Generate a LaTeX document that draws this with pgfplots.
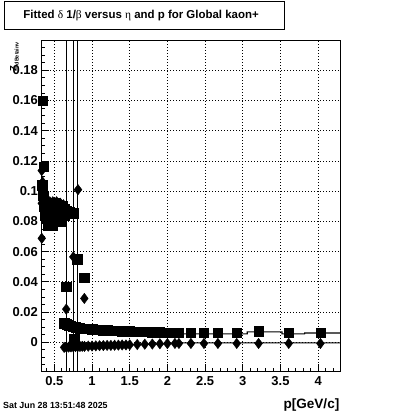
\documentclass[border=0pt]{standalone}
\usepackage{fontspec}
\setmainfont{Liberation Sans}
\newfontfamily\greek{Liberation Serif}
\usepackage{pgfplots}
\pgfplotsset{compat=1.18}
\begin{document}
\begin{tikzpicture}
\begin{axis}[
  scale only axis, width=298.7bp, height=331bp,
  xmin=0.327, xmax=4.29, ymin=-0.0197, ymax=0.1994,
  clip=false,
  axis line style={line width=1bp},
  xtick={0.5,1,1.5,2,2.5,3,3.5,4},
  xticklabels={0.5,1,1.5,2,2.5,3,3.5,4},
  minor xtick={0.4,0.6,0.7,0.8,0.9,1.1,1.2,1.3,1.4,1.6,1.7,1.8,1.9,2.1,2.2,2.3,2.4,2.6,2.7,2.8,2.9,3.1,3.2,3.3,3.4,3.6,3.7,3.8,3.9,4.1,4.2},
  ytick={0,0.02,0.04,0.06,0.08,0.1,0.12,0.14,0.16,0.18},
  yticklabels={0,0.02,0.04,0.06,0.08,0.1,0.12,0.14,0.16,0.18},
  minor ytick={-0.015,-0.01,-0.005,0.005,0.01,0.015,0.025,0.03,0.035,0.045,0.05,0.055,0.065,0.07,0.075,0.085,0.09,0.095,0.105,0.11,0.115,0.125,0.13,0.135,0.145,0.15,0.155,0.165,0.17,0.175,0.185,0.19,0.195},
  tick align=inside, xtick pos=bottom, ytick pos=left,
  major tick length=8bp, minor tick length=4bp,
  tick style={line width=0.8bp, black},
  grid=major,
  major grid style={black, line width=0.7bp, dash pattern=on 1bp off 2bp},
  ticklabel style={font=\fontsize{13}{13}\selectfont\bfseries},
  xticklabel style={yshift=-1bp},
]
% vertical error bars
\addplot[black, line width=0.9bp] coordinates {(0.658,-0.0197) (0.658,0.1994)};
\addplot[black, line width=0.9bp] coordinates {(0.752,-0.0197) (0.752,0.1994)};
\addplot[black, line width=0.9bp] coordinates {(0.800,-0.0197) (0.800,0.1994)};
% lines
\addplot[black, line width=1.1bp] coordinates {(0.63,0.0122) (0.84,0.0093) (1.0,0.0086) (1.5,0.0071) (2.1,0.0061) (2.2,0.0055) (3.06,0.0055) (3.06,0.0069) (3.52,0.0069) (3.52,0.0055) (3.82,0.0055) (3.82,0.0061) (4.29,0.0061)};
\addplot[black, line width=1.1bp] coordinates {(0.63,-0.0034) (1.0,-0.0025) (1.5,-0.0017) (2.1,-0.0008) (2.2,-0.0004) (4.29,-0.0004)};
% squares
\addplot[only marks, mark=square*, mark size=4.7bp, black] coordinates {
(0.347,0.160) (0.36,0.116)
(0.34,0.104) (0.35,0.097) (0.36,0.090) (0.37,0.084) (0.38,0.087) (0.39,0.082) (0.40,0.085) (0.41,0.079) (0.42,0.077) (0.43,0.081) (0.44,0.086) (0.45,0.090) (0.46,0.084) (0.47,0.078) (0.48,0.077) (0.49,0.082) (0.50,0.088) (0.51,0.092) (0.52,0.086) (0.53,0.080) (0.54,0.084) (0.55,0.089) (0.56,0.091) (0.57,0.085) (0.58,0.080) (0.59,0.083) (0.60,0.088) (0.61,0.090) (0.62,0.086) (0.63,0.084) (0.64,0.088) (0.66,0.087) (0.70,0.086) (0.748,0.0855)
(0.658,0.0366) (0.805,0.055) (0.898,0.0426) (0.761,0.002)
(0.63,0.0125) (0.66,0.0120) (0.69,0.0114) (0.72,0.0108) (0.75,0.0103) (0.78,0.0099) (0.81,0.0096) (0.84,0.0093) (0.87,0.0091) (0.90,0.0090) (0.95,0.0088) (1.00,0.0086) (1.05,0.0084) (1.10,0.0082) (1.15,0.0080) (1.20,0.0079) (1.25,0.0077) (1.30,0.0076) (1.35,0.0075) (1.40,0.0074) (1.45,0.0073) (1.50,0.0072) (1.55,0.0071) (1.60,0.0070) (1.65,0.0069) (1.70,0.0068) (1.75,0.0068) (1.80,0.0067) (1.85,0.0066) (1.90,0.0066) (1.95,0.0065) (2.00,0.0065) (2.05,0.0064) (2.10,0.0064)
(2.153,0.0062) (2.312,0.0062) (2.485,0.0062) (2.67,0.0062) (2.92,0.0062) (3.21,0.0072) (3.61,0.0062) (4.03,0.0064)
};
% diamonds
\addplot[only marks, mark=diamond*, mark size=5.2bp, black] coordinates {
(0.333,0.1136) (0.333,0.0688) (0.333,0.092)
(0.34,0.101) (0.345,0.106) (0.35,0.095) (0.36,0.088) (0.37,0.092) (0.38,0.083) (0.39,0.089) (0.40,0.093) (0.41,0.087) (0.42,0.082) (0.43,0.087) (0.44,0.093) (0.45,0.089) (0.46,0.082) (0.47,0.087) (0.48,0.093) (0.49,0.090) (0.50,0.085) (0.51,0.080) (0.52,0.089) (0.53,0.093) (0.54,0.090) (0.55,0.084) (0.56,0.080) (0.57,0.087) (0.58,0.092) (0.59,0.088) (0.60,0.083) (0.61,0.086) (0.62,0.091) (0.63,0.087) (0.64,0.084) (0.66,0.089)
(0.658,0.0219) (0.752,0.0565) (0.814,0.101) (0.898,0.029)
(0.63,-0.0034) (0.66,-0.0033) (0.69,-0.0032) (0.72,-0.0031) (0.75,-0.0030) (0.78,-0.0029) (0.81,-0.0029) (0.84,-0.0028) (0.87,-0.0027) (0.90,-0.0027) (0.95,-0.0026) (1.00,-0.0025) (1.05,-0.0024) (1.10,-0.0023) (1.15,-0.0022) (1.20,-0.0021) (1.25,-0.0021) (1.30,-0.0020) (1.35,-0.0019) (1.40,-0.0018) (1.45,-0.0018) (1.50,-0.0017) (1.60,-0.0015) (1.70,-0.0013) (1.80,-0.0012) (1.90,-0.0010) (2.00,-0.0009) (2.10,-0.0008)
(2.153,-0.0008) (2.312,-0.0008) (2.485,-0.0008) (2.67,-0.0008) (2.92,-0.0008) (3.21,-0.0008) (3.61,-0.0008) (4.03,-0.0008)
};
% page frame (400 x 414 px)
\path (rel axis cs:-0.13827,-0.12689) rectangle (rel axis cs:1.20087,1.12387);
% title box
\draw[line width=1bp] (rel axis cs:-0.12487,1.03323) rectangle (rel axis cs:0.81252,1.11782);
\node[font=\fontsize{11.5}{11.5}\selectfont\bfseries] at (rel axis cs:0.33411,1.07553) {Fitted {\greek\mdseries δ} 1/{\greek\mdseries β} versus {\greek\mdseries η} and p for Global kaon+};
% y label
\node[anchor=north west, inner sep=0pt, font=\bfseries] at (rel axis cs:-0.10479,0.997) {\rotatebox{90}{\fontsize{9.5}{9.5}\selectfont Z\raisebox{-2bp}{\fontsize{5.5}{5.5}\selectfont dBetainv}}};
% x label
\node[anchor=east, inner sep=0pt, font=\fontsize{13.6}{13.6}\selectfont\bfseries] at (rel axis cs:0.99833,-0.09970) {p[GeV/c]};
% date
\node[anchor=west, inner sep=0pt, font=\fontsize{8.9}{8.9}\selectfont\bfseries] at (rel axis cs:-0.12822,-0.10121) {Sat Jun 28 13:51:48 2025};
\end{axis}
\end{tikzpicture}
\end{document}
